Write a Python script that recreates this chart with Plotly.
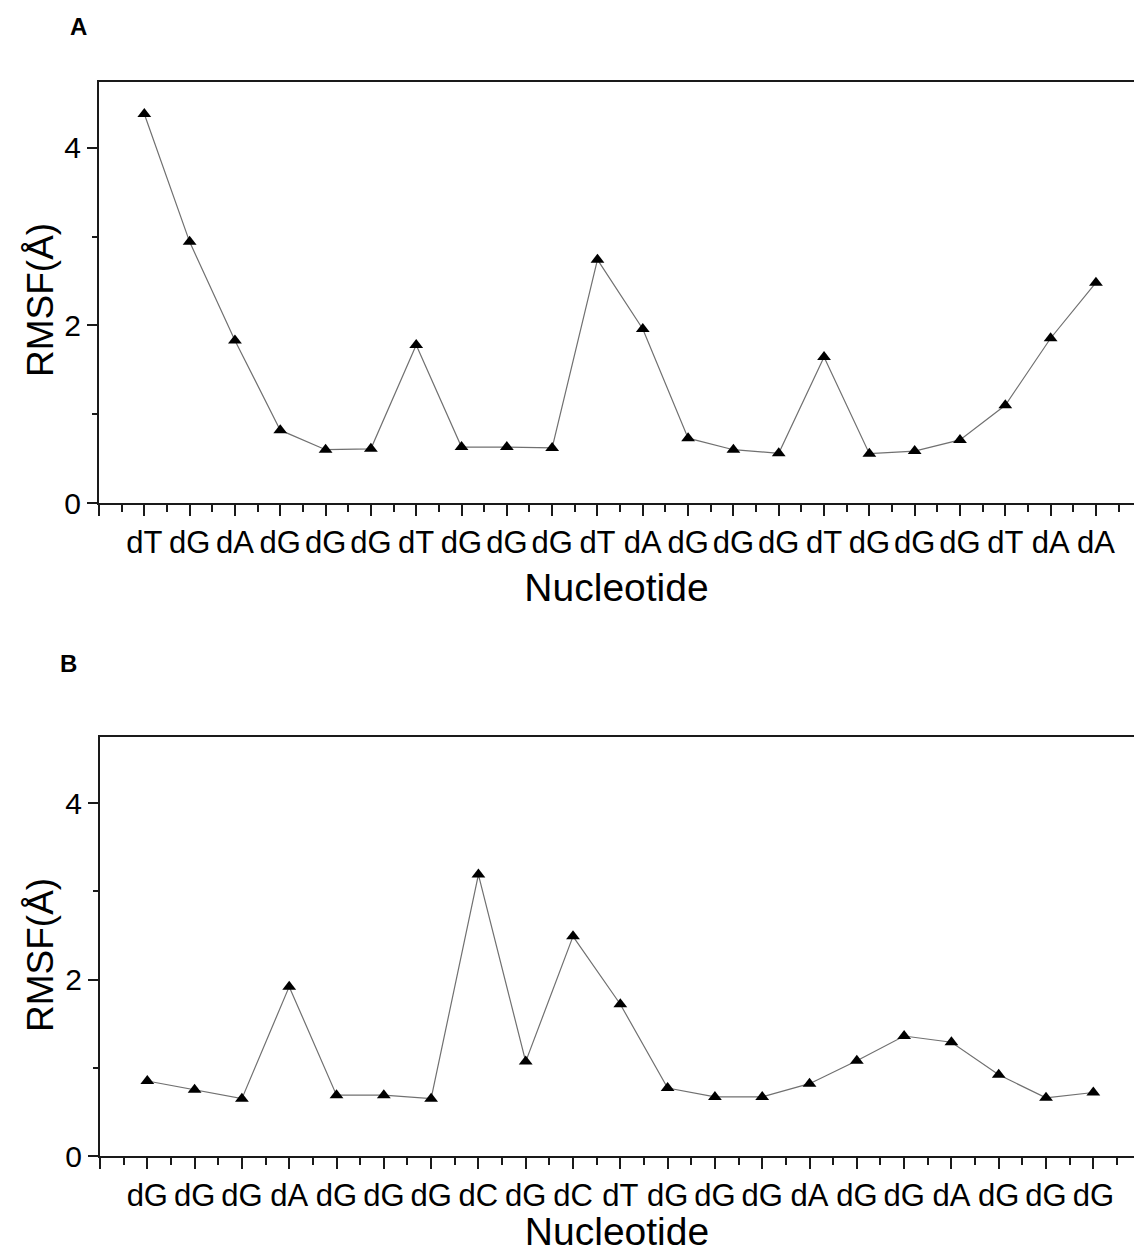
import plotly.graph_objects as go

# ---------------- data ----------------
labels_a = ["dT", "dG", "dA", "dG", "dG", "dG", "dT", "dG", "dG", "dG", "dT",
            "dA", "dG", "dG", "dG", "dT", "dG", "dG", "dG", "dT", "dA", "dA"]
rmsf_a = [4.38, 2.94, 1.83, 0.82, 0.60, 0.61, 1.78, 0.63, 0.63, 0.62, 2.74,
          1.96, 0.73, 0.60, 0.56, 1.645, 0.555, 0.585, 0.71, 1.10, 1.855, 2.48]

labels_b = ["dG", "dG", "dG", "dA", "dG", "dG", "dG", "dC", "dG", "dC", "dT",
            "dG", "dG", "dG", "dA", "dG", "dG", "dA", "dG", "dG", "dG"]
rmsf_b = [0.85, 0.75, 0.65, 1.92, 0.69, 0.69, 0.65, 3.19, 1.07, 2.49, 1.72,
          0.77, 0.67, 0.67, 0.82, 1.08, 1.36, 1.29, 0.92, 0.66, 0.72]

y_ticks = [0, 2, 4]
y_title = "RMSF(Å)"
x_title = "Nucleotide"

# ---------------- layout helpers ----------------
W, H = 1134, 1253
FONT = "Liberation Sans, Arial, Helvetica, sans-serif"
AX = "#1a1a1a"


def ydom(top_px, bottom_px):
    return [1 - bottom_px / H, 1 - top_px / H]


pos_a = list(range(1, len(labels_a) + 1))
pos_b = list(range(1, len(labels_b) + 1))

fig = go.Figure()

for xs, ys, xa, ya in [(pos_a, rmsf_a, "x", "y"), (pos_b, rmsf_b, "x2", "y2")]:
    fig.add_trace(go.Scatter(
        x=xs, y=ys, mode="lines+markers",
        line=dict(color="#707070", width=1.2),
        marker=dict(symbol="triangle-up", size=12, color="black"),
        xaxis=xa, yaxis=ya, showlegend=False,
    ))


def xaxis_cfg(labels, left_px, rng, anchor):
    n = len(labels)
    return dict(
        domain=[left_px / W, 1.0], range=rng, anchor=anchor,
        tickmode="array", tickvals=list(range(0, n + 1)),
        ticktext=[""] + labels,
        ticks="outside", ticklen=11, tickwidth=2, tickcolor=AX,
        minor=dict(tickmode="array",
                   tickvals=[i + 0.5 for i in range(0, n + 2)],
                   ticks="outside", ticklen=7, tickwidth=2, tickcolor=AX,
                   showgrid=False),
        showline=True, linewidth=2, linecolor=AX, mirror=True,
        showgrid=False, zeroline=False,
        tickfont=dict(family=FONT, size=31, color="black"),
        title=dict(text=x_title, font=dict(family=FONT, size=39, color="black"),
                   standoff=14),
        automargin=False, fixedrange=True,
    )


def yaxis_cfg(dom, rng, anchor):
    return dict(
        domain=dom, range=rng, anchor=anchor,
        tickmode="array", tickvals=y_ticks,
        ticks="outside", ticklen=10, tickwidth=2, tickcolor=AX,
        minor=dict(tickmode="array", tickvals=[1, 3],
                   ticks="outside", ticklen=5, tickwidth=2, tickcolor=AX,
                   showgrid=False),
        showline=True, linewidth=2, linecolor=AX, mirror=False,
        showgrid=False, zeroline=False,
        tickfont=dict(family=FONT, size=30, color="black"),
        ticklabelstandoff=0,
        automargin=False, fixedrange=True,
    )


def ytitle_ann(center_px):
    return dict(text=y_title, textangle=-90, x=40 / W, y=1 - center_px / H,
                xref="paper", yref="paper", showarrow=False,
                font=dict(family=FONT, size=37, color="black"),
                xanchor="center", yanchor="middle")


fig.update_layout(
    width=W, height=H,
    margin=dict(l=0, r=0, t=0, b=0),
    paper_bgcolor="white", plot_bgcolor="white",
    xaxis=xaxis_cfg(labels_a, 99, [0, 22.84], "y"),
    yaxis=yaxis_cfg(ydom(82, 503), [0, 4.74], "x"),
    xaxis2=xaxis_cfg(labels_b, 100, [0, 21.86], "y2"),
    yaxis2=yaxis_cfg(ydom(737, 1156), [0, 4.75], "x2"),
    annotations=[
        ytitle_ann(300),
        ytitle_ann(955),
        dict(text="<b>A</b>", x=78 / W, y=1 - 27 / H, xref="paper", yref="paper",
             showarrow=False, font=dict(family=FONT, size=24, color="black"),
             xanchor="center", yanchor="middle"),
        dict(text="<b>B</b>", x=68 / W, y=1 - 663 / H, xref="paper", yref="paper",
             showarrow=False, font=dict(family=FONT, size=24, color="black"),
             xanchor="center", yanchor="middle"),
    ],
)

fig.write_html(
    "out.html",
    config={"displayModeBar": False},
    post_script="document.body.style.margin='0';document.body.style.overflow='hidden';",
)
